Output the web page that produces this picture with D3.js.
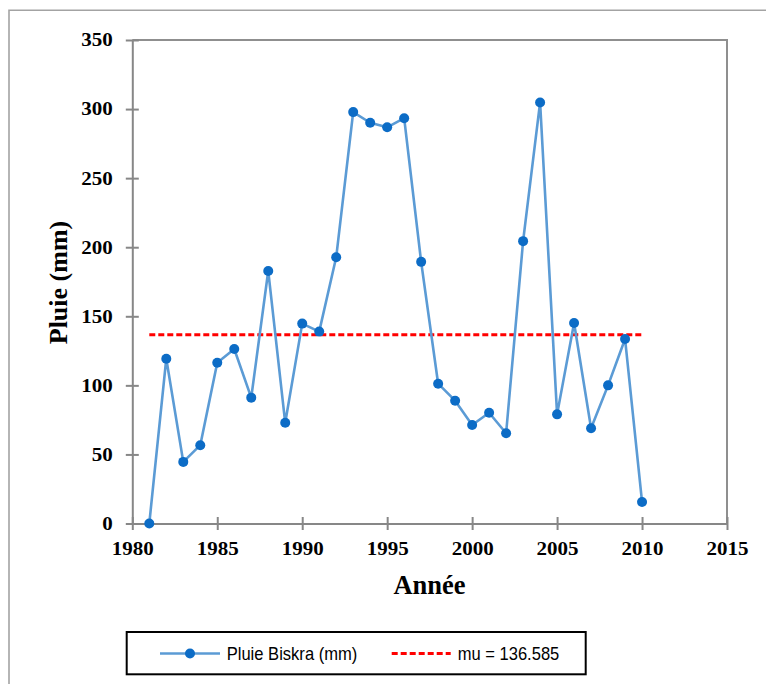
<!DOCTYPE html>
<html>
<head>
<meta charset="utf-8">
<script src="https://cdn.jsdelivr.net/npm/d3@7/dist/d3.min.js"></script>
<style>
  html, body { margin: 0; padding: 0; background: #fff; }
  svg { display: block; }
</style>
</head>
<body>
<svg id="chart" width="766" height="684"></svg>
<script>
// Annual rainfall at Biskra (mm), 1981–2010
const years = [1981, 1982, 1983, 1984, 1985, 1986, 1987, 1988, 1989, 1990,
               1991, 1992, 1993, 1994, 1995, 1996, 1997, 1998, 1999, 2000,
               2001, 2002, 2003, 2004, 2005, 2006, 2007, 2008, 2009, 2010];
const rainfall = [0, 119.3, 44.6, 56.7, 116.4, 126.3, 91.1, 182.8, 72.9, 144.7,
                  138.9, 192.7, 297.8, 290.1, 286.8, 293.4, 189.4, 101.2, 88.9, 71.3,
                  80.2, 65.3, 204.4, 304.8, 79.0, 145.1, 68.9, 100.0, 133.6, 15.6];
const meanValue = 136.585;
const xTicks = [1980, 1985, 1990, 1995, 2000, 2005, 2010, 2015];
const yTicks = [0, 50, 100, 150, 200, 250, 300, 350];
const seriesLabel = "Pluie Biskra (mm)";
const meanLabel = "mu = " + meanValue;

const svg = d3.select("#chart");

const plot = { left: 132.3, right: 727, top: 40, bottom: 523.5 };
const x = d3.scaleLinear().domain([1980, 2015]).range([plot.left, plot.right]);
const y = d3.scaleLinear().domain([0, 350]).range([plot.bottom, plot.top]);

const gridGray = "#878787";
const lineBlue = "#5b9bd5";
const markBlue = "#0c6cc6";

// outer frame (left and top edges)
svg.append("path")
  .attr("d", "M9,684 V10.3 H766")
  .attr("fill", "none")
  .attr("stroke", "#a3a3a3")
  .attr("stroke-width", 1.6);

// plot frame: top and right edges
svg.append("path")
  .attr("d", `M${plot.left},${plot.top} H${plot.right} V${plot.bottom}`)
  .attr("fill", "none")
  .attr("stroke", "#8f8f8f")
  .attr("stroke-width", 2);

// axes with ticks crossing the axis line
const xAxis = svg.append("g")
  .attr("transform", `translate(0,${plot.bottom})`)
  .call(d3.axisBottom(x).tickValues(xTicks).tickFormat(d3.format("d"))
    .tickSize(6.5).tickSizeOuter(0).tickPadding(12));
const yAxis = svg.append("g")
  .attr("transform", `translate(${plot.left},0)`)
  .call(d3.axisLeft(y).tickValues(yTicks).tickSize(6.5).tickSizeOuter(0).tickPadding(13));

[xAxis, yAxis].forEach(g => {
  g.select(".domain").attr("stroke", gridGray).attr("stroke-width", 2);
  g.selectAll(".tick line").attr("stroke", gridGray).attr("stroke-width", 2);
  g.selectAll(".tick text")
    .attr("fill", "#000")
    .style("font-family", "'Liberation Serif', 'Times New Roman', serif")
    .style("font-weight", "bold")
    .style("font-size", "18.5px")
    .attr("lengthAdjust", "spacingAndGlyphs")
    .attr("textLength", function () { return this.textContent.length * 10.5; });
});
xAxis.selectAll(".tick line").attr("y1", -6.5);
yAxis.selectAll(".tick line").attr("x1", 6.5).attr("x2", -6.5);
xAxis.selectAll(".tick text").attr("dy", "0.72em");

// axis titles
svg.append("text")
  .attr("x", 429.5).attr("y", 594)
  .attr("text-anchor", "middle")
  .style("font-family", "'Liberation Serif', 'Times New Roman', serif")
  .style("font-weight", "bold")
  .style("font-size", "26.5px")
  .text("Année");
svg.append("text")
  .attr("transform", "translate(67,282.5) rotate(-90)")
  .attr("text-anchor", "middle")
  .style("font-family", "'Liberation Serif', 'Times New Roman', serif")
  .style("font-weight", "bold")
  .style("font-size", "26px")
  .text("Pluie (mm)");

// mean reference line
svg.append("line")
  .attr("x1", x(years[0])).attr("x2", x(years[years.length - 1]))
  .attr("y1", y(meanValue)).attr("y2", y(meanValue))
  .attr("stroke", "#ff0000")
  .attr("stroke-width", 3)
  .attr("stroke-dasharray", "6,3");

// rainfall series
const pts = years.map((yr, i) => [yr, rainfall[i]]);
svg.append("path")
  .datum(pts)
  .attr("fill", "none")
  .attr("stroke", lineBlue)
  .attr("stroke-width", 2.6)
  .attr("stroke-linejoin", "round")
  .attr("d", d3.line().x(d => x(d[0])).y(d => y(d[1])));
svg.append("g").selectAll("circle")
  .data(pts)
  .join("circle")
  .attr("cx", d => x(d[0]))
  .attr("cy", d => y(d[1]))
  .attr("r", 5)
  .attr("fill", markBlue);

// legend
const legend = svg.append("g");
legend.append("rect")
  .attr("x", 126.7).attr("y", 632)
  .attr("width", 459).attr("height", 42.3)
  .attr("fill", "#fff")
  .attr("stroke", "#000")
  .attr("stroke-width", 2);
const ly = 653.5;
legend.append("line")
  .attr("x1", 160).attr("x2", 220).attr("y1", ly).attr("y2", ly)
  .attr("stroke", lineBlue).attr("stroke-width", 2.6);
legend.append("circle")
  .attr("cx", 190).attr("cy", ly).attr("r", 5).attr("fill", markBlue);
legend.append("line")
  .attr("x1", 391.7).attr("x2", 450.7).attr("y1", ly).attr("y2", ly)
  .attr("stroke", "#ff0000").attr("stroke-width", 3)
  .attr("stroke-dasharray", "6,3");
const legendFont = "'Liberation Sans', Arial, sans-serif";
legend.append("text")
  .attr("x", 226.7).attr("y", 660)
  .style("font-family", legendFont).style("font-size", "18.5px")
  .attr("textLength", 130.6).attr("lengthAdjust", "spacingAndGlyphs")
  .text(seriesLabel);
legend.append("text")
  .attr("x", 457.7).attr("y", 660)
  .style("font-family", legendFont).style("font-size", "18.5px")
  .attr("textLength", 101.6).attr("lengthAdjust", "spacingAndGlyphs")
  .text(meanLabel);
</script>
</body>
</html>
